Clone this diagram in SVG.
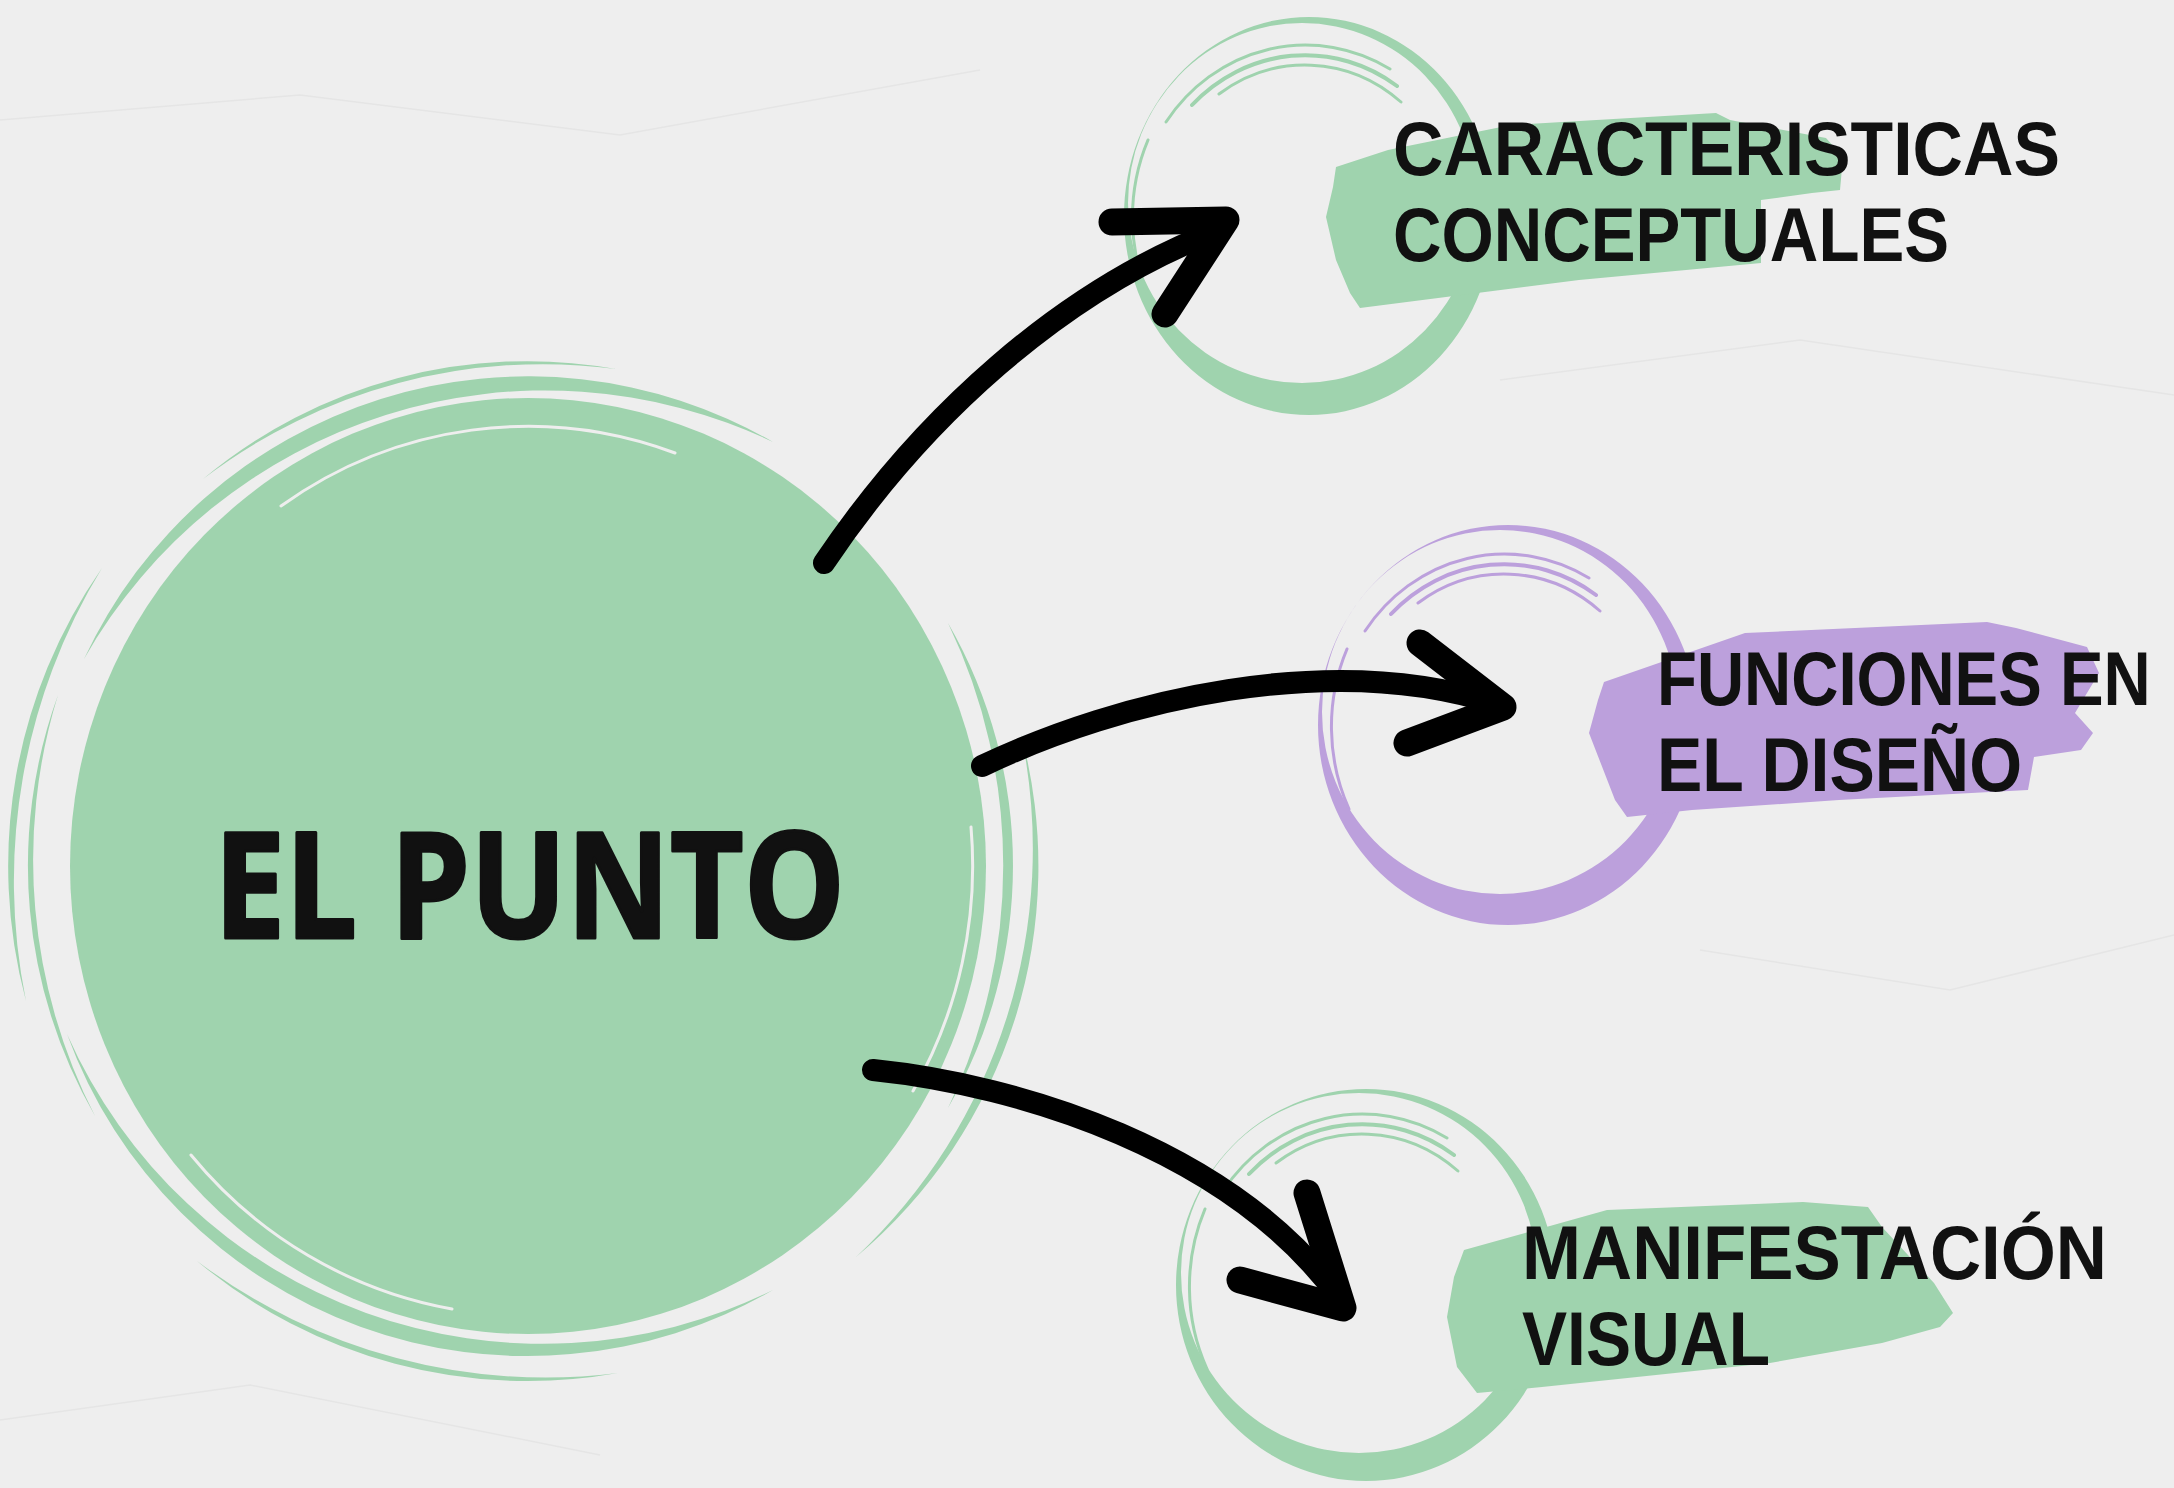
<svg xmlns="http://www.w3.org/2000/svg" width="2174" height="1488" viewBox="0 0 2174 1488">
<style>
  .bg { fill: #eeeeee; }
  .crease { fill: none; stroke: #e5e5e5; stroke-width: 1.5; }
  .green { fill: #9fd3ae; }
  .purple { fill: #bca0dc; }
  .gstroke { fill: none; stroke: #9fd3ae; stroke-linecap: round; }
  .pstroke { fill: none; stroke: #bca0dc; stroke-linecap: round; }
  .gap { fill: none; stroke: #eeeeee; stroke-linecap: round; }
  .title { font-family: "Open Sans", "DejaVu Sans", sans-serif; font-weight: 700; font-size: 147px; fill: #111111; stroke: #111111; stroke-width: 3; stroke-linejoin: round; }
  .label { font-family: "Liberation Sans", Arial, sans-serif; font-weight: 700; font-size: 76px; fill: #111111; }
  .shaft { fill: none; stroke: #000000; stroke-width: 22; stroke-linecap: round; }
  .head { fill: none; stroke: #000000; stroke-width: 27; stroke-linecap: round; stroke-linejoin: round; }
</style>
<rect class="bg" x="0" y="0" width="2174" height="1488"/>
<g id="background-texture">
  <path class="crease" d="M0 120 L300 95 L620 135 L980 70"/>
  <path class="crease" d="M1500 380 L1800 340 L2174 395"/>
  <path class="crease" d="M1700 950 L1950 990 L2174 935"/>
  <path class="crease" d="M0 1420 L250 1385 L600 1455"/>
</g>

<g id="node-el-punto">
  <ellipse class="green" cx="528" cy="866" rx="458" ry="468"/>
  <path class="green" d="M84 659 A490 490 0 0 1 773 442 A530 530 0 0 0 84 659 Z"/>
  <path class="green" d="M203 479 A505 505 0 0 1 616 369 A560 560 0 0 0 203 479 Z"/>
  <path class="green" d="M948 623 A485 485 0 0 1 948 1108 A560 560 0 0 0 948 623 Z"/>
  <path class="green" d="M1021 734 A510 510 0 0 1 856 1257 A560 560 0 0 0 1021 734 Z"/>
  <path class="green" d="M773 1290 A490 490 0 0 1 67 1034 A520 520 0 0 0 773 1290 Z"/>
  <path class="green" d="M618 1373 A515 515 0 0 1 197 1261 A580 580 0 0 0 618 1373 Z"/>
  <path class="green" d="M95 1116 A500 500 0 0 1 58 695 A560 560 0 0 0 95 1116 Z"/>
  <path class="green" d="M26 1001 A520 520 0 0 1 102 568 A600 600 0 0 0 26 1001 Z"/>
  <path class="gap" stroke-width="3" d="M281 506 A430 440 0 0 1 675 453"/>
  <path class="gap" stroke-width="3" d="M452 1309 A440 450 0 0 1 191 1155"/>
  <path class="gap" stroke-width="3" d="M971 827 A445 450 0 0 1 913 1091"/>
  <text class="title" x="214" y="938" textLength="631" lengthAdjust="spacingAndGlyphs">EL PUNTO</text>
</g>

<g id="node-caracteristicas">
  <path class="green" fill-rule="evenodd" d="M1124 216 A185 199 0 1 0 1494 216 A185 199 0 1 0 1124 216 Z M1128 203 A174 180 0 1 0 1476 203 A174 180 0 1 0 1128 203 Z"/>
  <path class="gstroke" stroke-width="4" d="M1192 105 A160 170 0 0 1 1397 86"/>
  <path class="gstroke" stroke-width="3" d="M1166 122 A170 180 0 0 1 1390 69"/>
  <path class="gstroke" stroke-width="3" d="M1219 94 A150 160 0 0 1 1401 102"/>
  <path class="gstroke" stroke-width="3" d="M1150 300 A178 190 0 0 1 1148 140"/>
  <path class="green" d="M1336 167 L1388 150 L1511 125 L1716 113 L1730 120 L1826 138 L1843 157 L1840 190 L1812 193 L1761 200 L1761 263 L1579 280 L1360 308 L1350 293 L1336 260 L1326 217 L1333 187 Z"/>
  <text class="label" x="1393" y="175" textLength="667" lengthAdjust="spacingAndGlyphs">CARACTERISTICAS</text>
  <text class="label" x="1393" y="261" textLength="556" lengthAdjust="spacingAndGlyphs">CONCEPTUALES</text>
</g>

<g id="node-funciones">
  <path class="purple" fill-rule="evenodd" d="M1318 725 A190 200 0 1 0 1698 725 A190 200 0 1 0 1318 725 Z M1322 712 A178 182 0 1 0 1678 712 A178 182 0 1 0 1322 712 Z"/>
  <path class="pstroke" stroke-width="4" d="M1391 614 A160 170 0 0 1 1596 595"/>
  <path class="pstroke" stroke-width="3" d="M1365 631 A170 180 0 0 1 1589 578"/>
  <path class="pstroke" stroke-width="3" d="M1418 603 A150 160 0 0 1 1600 611"/>
  <path class="pstroke" stroke-width="3" d="M1349 809 A178 190 0 0 1 1347 649"/>
  <path class="purple" d="M1604 682 L1745 633 L1987 622 L2016 628 L2087 647 L2099 673 L2087 693 L2075 713 L2093 733 L2081 750 L2034 757 L2028 790 L1839 800 L1692 810 L1627 817 L1615 800 L1589 733 L1598 700 Z"/>
  <text class="label" transform="translate(1657 705) scale(0.86 1)" x="0" y="0" textLength="574" lengthAdjust="spacingAndGlyphs">FUNCIONES EN</text>
  <text class="label" x="1657" y="791" textLength="365" lengthAdjust="spacingAndGlyphs">EL DISEÑO</text>
</g>

<g id="node-manifestacion">
  <path class="green" fill-rule="evenodd" d="M1176 1285 A190 196 0 1 0 1556 1285 A190 196 0 1 0 1176 1285 Z M1181 1273 A178 180 0 1 0 1537 1273 A178 180 0 1 0 1181 1273 Z"/>
  <path class="gstroke" stroke-width="4" d="M1249 1174 A160 170 0 0 1 1454 1155"/>
  <path class="gstroke" stroke-width="3" d="M1223 1191 A170 180 0 0 1 1447 1138"/>
  <path class="gstroke" stroke-width="3" d="M1276 1163 A150 160 0 0 1 1458 1171"/>
  <path class="gstroke" stroke-width="3" d="M1207 1369 A178 190 0 0 1 1205 1209"/>
  <path class="green" d="M1464 1250 L1607 1210 L1803 1202 L1868 1207 L1882 1227 L1934 1283 L1953 1313 L1940 1327 L1882 1343 L1770 1363 L1542 1387 L1477 1393 L1457 1367 L1447 1317 L1454 1277 Z"/>
  <text class="label" x="1522" y="1279" textLength="585" lengthAdjust="spacingAndGlyphs">MANIFESTACIÓN</text>
  <text class="label" x="1522" y="1365" textLength="248" lengthAdjust="spacingAndGlyphs">VISUAL</text>
</g>

<g id="connectors">
  <path class="shaft" d="M824 563 C920 420 1060 290 1222 229"/>
  <path class="head" d="M1112 222 L1226 220 L1165 314"/>
  <path class="shaft" d="M982 766 C1120 700 1330 650 1497 704"/>
  <path class="head" d="M1420 643 L1503 707 L1407 743"/>
  <path class="shaft" d="M873 1070 C1020 1085 1230 1150 1338 1296"/>
  <path class="head" d="M1307 1193 L1343 1308 L1240 1280"/>
</g>
</svg>
